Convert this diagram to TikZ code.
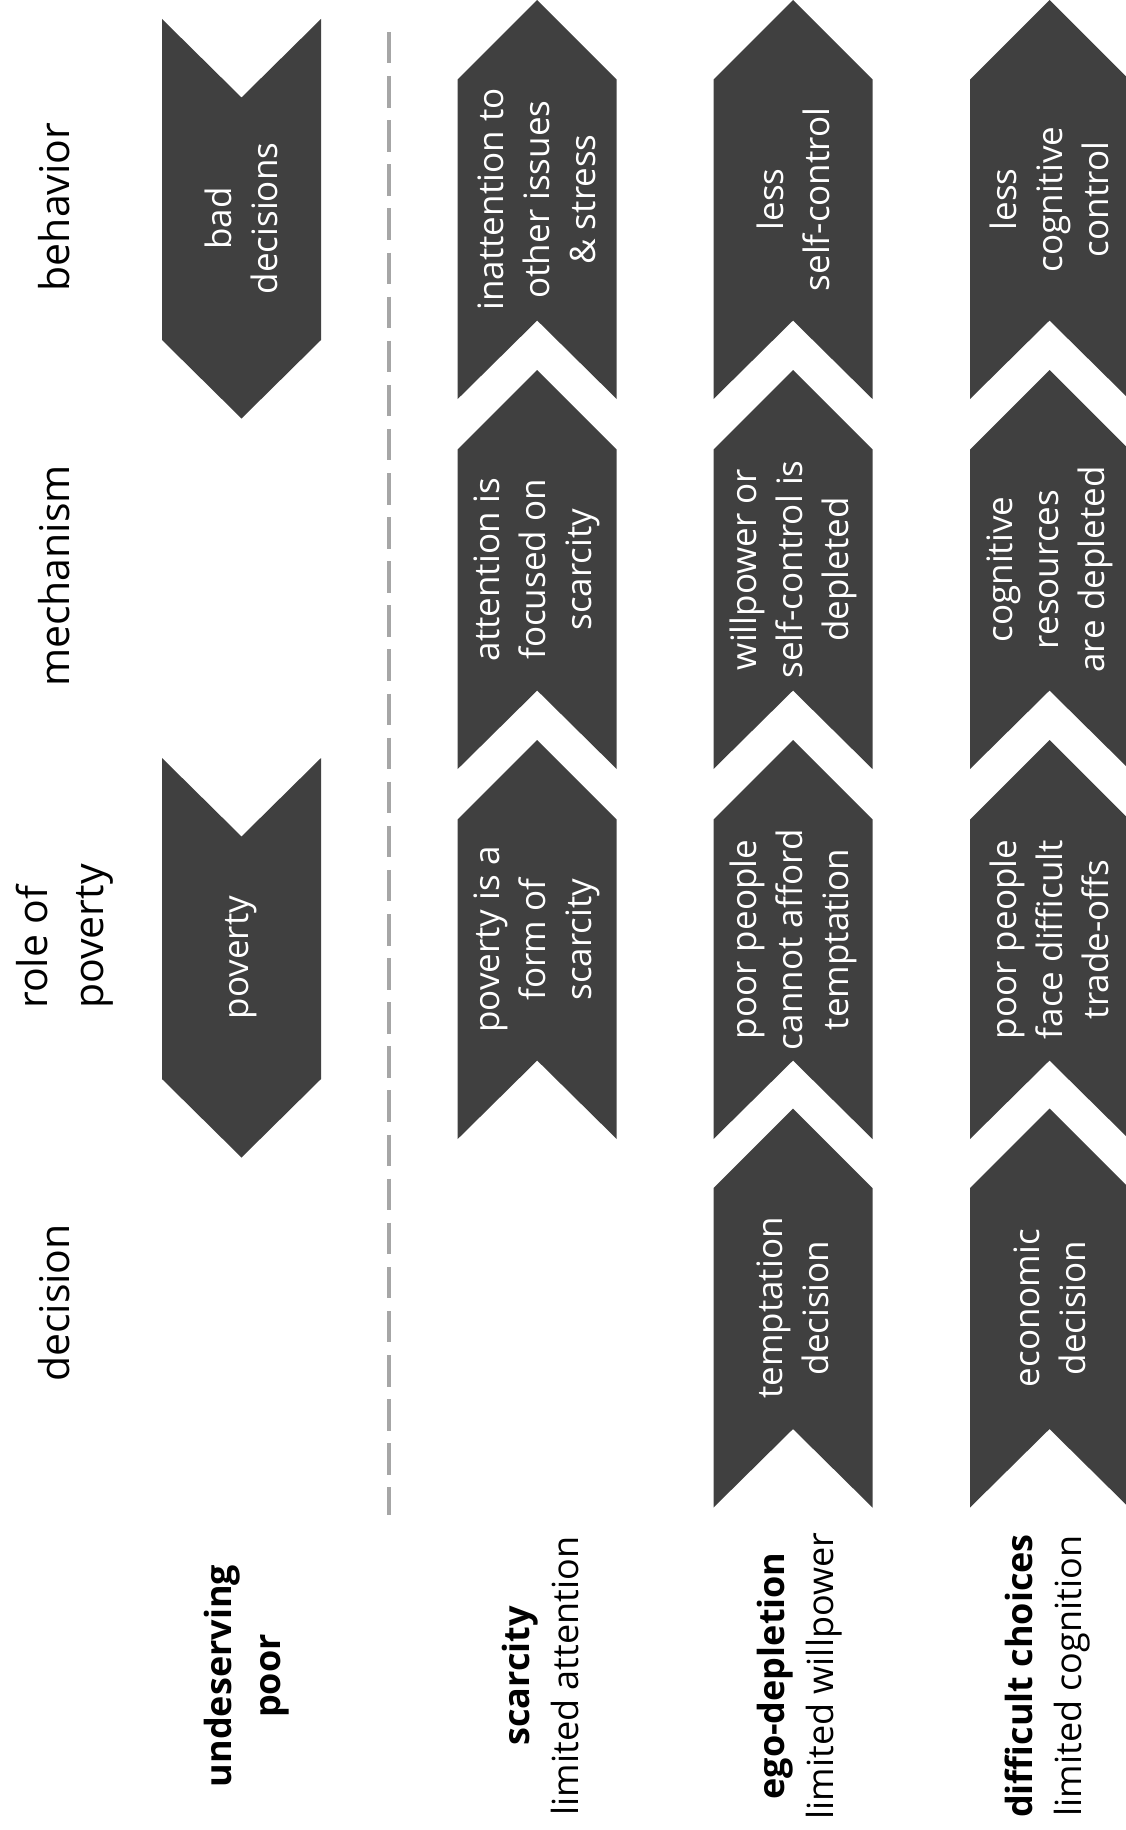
\documentclass[tikz,border=0pt]{standalone}
\usepackage{fontspec}
\setmainfont{Open Sans}
\definecolor{chevgray}{HTML}{404040}
\definecolor{dashgray}{HTML}{A6A6A6}
\tikzset{
  chev/.style={fill=chevgray},
  chevtext/.style={rotate=90, text=white, align=center, inner sep=0pt,
    font=\fontsize{35}{46}\selectfont},
  headtext/.style={rotate=90, inner sep=0pt, font=\fontsize{41}{56}\selectfont},
  rowlab/.style={rotate=90, align=center, inner sep=0pt,
    font=\fontsize{36}{49}\selectfont},
  sepline/.style={draw=dashgray, line width=3.5pt, dash pattern=on 31.5pt off 12.6pt}
}
% chevron pointing down: #1 centre x, #2 y of top corners, #3 name, #4 text
\newcommand{\chevDown}[4]{%
  \fill[chev] ({#1-79.5},{#2}) -- ({#1},{#2+78.5}) -- ({#1+79.5},{#2})
    -- ({#1+79.5},{#2+321}) -- ({#1},{#2+399.5}) -- ({#1-79.5},{#2+321}) -- cycle;
  \node[chevtext] (#3) at ({#1},{#2+199.5}) {#4};}
% chevron pointing up: #1 centre x, #2 y of peak, #3 name, #4 text
\newcommand{\chevUp}[4]{%
  \fill[chev] ({#1-79.5},{#2+79.5}) -- ({#1},{#2}) -- ({#1+79.5},{#2+79.5})
    -- ({#1+79.5},{#2+399}) -- ({#1},{#2+320.5}) -- ({#1-79.5},{#2+399}) -- cycle;
  \node[chevtext] (#3) at ({#1},{#2+199.5}) {#4};}
\begin{document}
\begin{tikzpicture}[x=1pt, y=-1pt]
\useasboundingbox (0,0) rectangle (1126,1830);
\clip (0,0) rectangle (1126,1830);
% headers
\node[headtext, anchor=base] (hbeh) at (69,207) {behavior};
\node[headtext, anchor=base] (hmech) at (69,576) {mechanism};
\node[headtext, anchor=west, align=left] (hrole) at (65,1009) {role of\\poverty};
\node[headtext, anchor=base] (hdec) at (69,1303) {decision};
% separator
\coordinate (dtop) at (389,32);
\coordinate (dbot) at (389,1515);
\draw[sepline] (dtop) -- (dbot);
% row 0
\chevDown{241.5}{19}{b0}{bad\\decisions}
\chevDown{241.5}{758}{p0}{poverty}
% row 1
\chevUp{537.2}{0}{b1}{inattention to\\other issues\\\& stress}
\chevUp{537.2}{370}{m1}{attention is\\focused on\\scarcity}
\chevUp{537.2}{740}{p1}{poverty is a\\form of\\scarcity}
% row 2
\chevUp{793}{0}{b2}{less\\self-control}
\chevUp{793}{370}{m2}{willpower or\\self-control is\\depleted}
\chevUp{793}{740}{p2}{poor people\\cannot afford\\temptation}
\chevUp{793}{1108.5}{d2}{temptation\\decision}
% row 3
\chevUp{1049.5}{0}{b3}{less\\cognitive\\control}
\chevUp{1049.5}{370}{m3}{cognitive\\resources\\are depleted}
\chevUp{1049.5}{740}{p3}{poor people\\face difficult\\trade-offs}
\chevUp{1049.5}{1108.5}{d3}{economic\\decision}
% row labels
\node[rowlab] (l0) at (246.5,1676) {\textbf{undeserving}\\\textbf{poor}};
\node[rowlab] (l1) at (540,1676) {\textbf{scarcity}\\limited attention};
\node[rowlab] (l2) at (800,1676) {\textbf{ego-depletion}\\limited willpower};
\node[rowlab] (l3) at (1048,1676) {\textbf{difficult choices}\\limited cognition};
\end{tikzpicture}
\end{document}
